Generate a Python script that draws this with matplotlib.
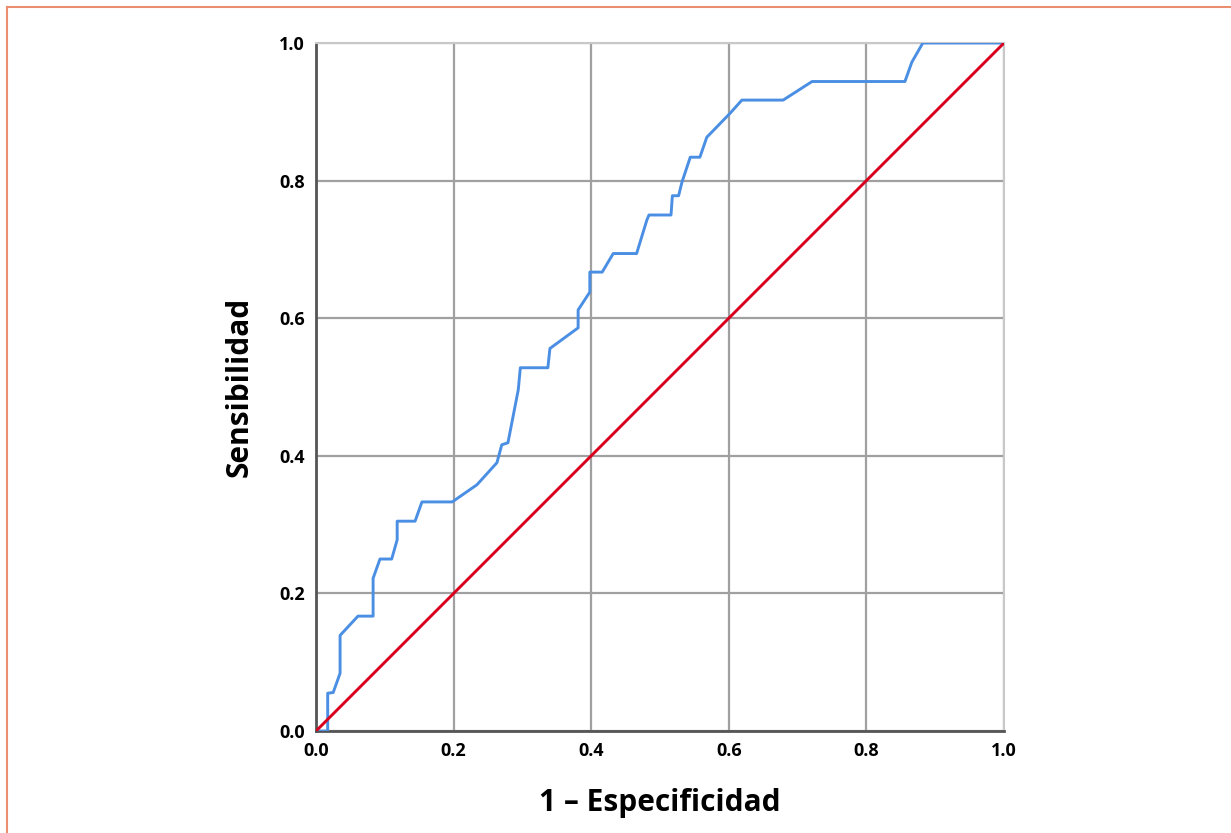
import matplotlib.pyplot as plt

# ROC curve
fpr = [0.0, 0.017, 0.017, 0.025, 0.035, 0.035, 0.061, 0.083, 0.083, 0.093,
       0.110, 0.118, 0.118, 0.144, 0.154, 0.198, 0.234, 0.263, 0.270, 0.279,
       0.294, 0.297, 0.337, 0.340, 0.381, 0.381, 0.398, 0.398, 0.416, 0.432,
       0.466, 0.481, 0.484, 0.516, 0.518, 0.527, 0.532, 0.544, 0.558, 0.568,
       0.602, 0.619, 0.679, 0.721, 0.856, 0.866, 0.882, 1.0]
tpr = [0.0, 0.0, 0.055, 0.056, 0.084, 0.139, 0.167, 0.167, 0.222, 0.250,
       0.250, 0.278, 0.305, 0.305, 0.333, 0.333, 0.358, 0.390, 0.416, 0.419,
       0.496, 0.528, 0.528, 0.556, 0.586, 0.612, 0.638, 0.667, 0.667, 0.694,
       0.694, 0.743, 0.750, 0.750, 0.778, 0.778, 0.798, 0.834, 0.834, 0.863,
       0.898, 0.917, 0.917, 0.944, 0.944, 0.972, 1.0, 1.0]
ref_line = [0.0, 1.0]
ticks = [0.0, 0.2, 0.4, 0.6, 0.8, 1.0]
tick_labels = ['0.0', '0.2', '0.4', '0.6', '0.8', '1.0']

plt.rcParams['font.family'] = ['Open Sans', 'DejaVu Sans']

fig = plt.figure(figsize=(12.31, 8.33), dpi=100)
ax = fig.add_axes([0.2567, 0.1224, 0.5589, 0.826])

ax.plot(fpr, tpr, color='#4a8fe3', lw=2.1, solid_joinstyle='round', zorder=3)
ax.plot(ref_line, ref_line, color='#d8001e', lw=2.1, zorder=4)

ax.set_xlim(0, 1)
ax.set_ylim(0, 1)
ax.set_xticks(ticks)
ax.set_yticks(ticks)
ax.set_xticklabels(tick_labels)
ax.set_yticklabels(tick_labels)
ax.grid(True, color='#a0a0a0', lw=1.6)
ax.set_axisbelow(True)
ax.tick_params(length=0, pad=8, labelsize=13)
for lab in ax.get_xticklabels() + ax.get_yticklabels():
    lab.set_fontweight('bold')

for side in ['left', 'bottom']:
    ax.spines[side].set_color('#555555')
    ax.spines[side].set_linewidth(2)
for side in ['top', 'right']:
    ax.spines[side].set_color('#c8c8c8')
    ax.spines[side].set_linewidth(1.5)

ax.set_xlabel('1 – Especificidad', fontsize=21.5, fontweight='bold', labelpad=20)
ax.set_ylabel('Sensibilidad', fontsize=21.5, fontweight='bold', labelpad=18)

# thin orange frame on the top and left edges
fig.add_artist(plt.Line2D([0.0053, 0.0053], [0, 0.9916], transform=fig.transFigure,
                          color='#e98e6e', lw=1.5))
fig.add_artist(plt.Line2D([0.0053, 1], [0.9916, 0.9916], transform=fig.transFigure,
                          color='#e98e6e', lw=1.5))

fig.savefig('out.png', dpi=100)
